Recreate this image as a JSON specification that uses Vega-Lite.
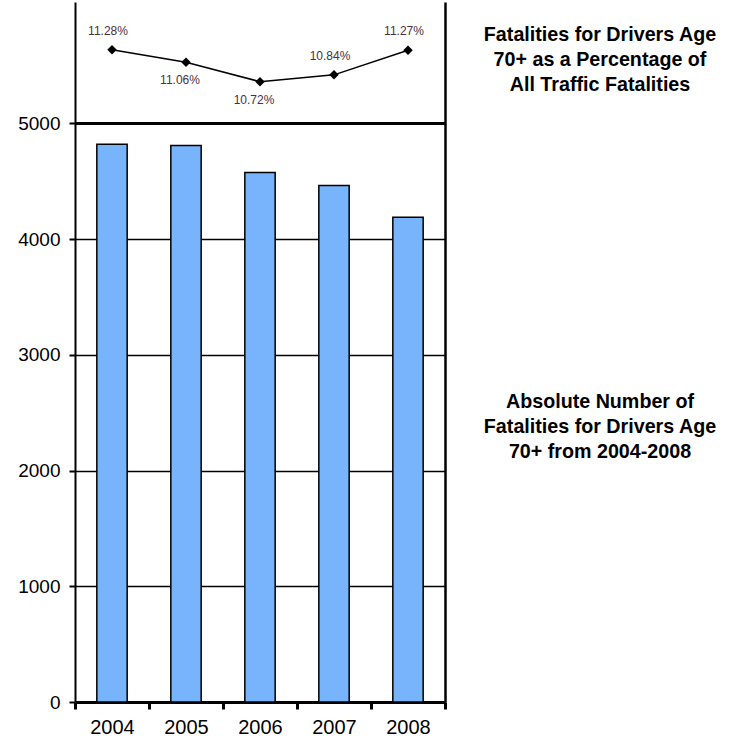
{
  "$schema": "https://vega.github.io/schema/vega-lite/v6.json",
  "background": "white",
  "padding": {"left": 5, "top": 2, "right": 5, "bottom": 0},
  "datasets": {
    "drivers70": [
      {"year": "2004", "fatalities": 4820, "share": 0.1128},
      {"year": "2005", "fatalities": 4808, "share": 0.1106},
      {"year": "2006", "fatalities": 4575, "share": 0.1072},
      {"year": "2007", "fatalities": 4463, "share": 0.1084},
      {"year": "2008", "fatalities": 4190, "share": 0.1127}
    ],
    "notes": [
      {"note": ["Fatalities for Drivers Age", "70+ as a Percentage of", "All Traffic Fatalities"], "at": 5764},
      {"note": ["Absolute Number of", "Fatalities for Drivers Age", "70+ from 2004-2008"], "at": 2595}
    ]
  },
  "spacing": 10,
  "hconcat": [
    {
      "width": 370,
      "height": 700,
      "data": {"name": "drivers70"},
      "encoding": {
        "x": {
          "field": "year",
          "type": "nominal",
          "scale": {"paddingInner": 0, "paddingOuter": 0},
          "axis": {
            "title": null,
            "labelAngle": 0,
            "labelFont": "Liberation Sans",
            "labelFontSize": 20,
            "labelColor": "black",
            "labelPadding": 8,
            "tickBand": "extent",
            "tickColor": "black",
            "tickWidth": 3,
            "tickSize": 7,
            "domainColor": "black",
            "domainWidth": 3,
            "grid": false
          }
        }
      },
      "layer": [
        {
          "mark": {"type": "bar", "fill": "#78b4fc", "stroke": "black", "strokeWidth": 1.5, "width": {"band": 0.41}},
          "encoding": {
            "y": {
              "field": "fatalities",
              "type": "quantitative",
              "scale": {"domain": [0, 6049], "nice": false},
              "axis": {
                "title": null,
                "values": [0, 1000, 2000, 3000, 4000, 5000],
                "format": "d",
                "grid": true,
                "gridColor": "black",
                "gridWidth": 1.5,
                "gridOpacity": 1,
                "tickColor": "black",
                "tickWidth": 2,
                "tickSize": 6,
                "labelFont": "Liberation Sans",
                "labelFontSize": 19,
                "labelColor": "black",
                "labelPadding": 9,
                "domainColor": "black",
                "domainWidth": 2,
                "minExtent": 70,
                "maxExtent": 70
              }
            }
          }
        },
        {
          "mark": {"type": "rule", "color": "black", "strokeWidth": 2.5},
          "encoding": {
            "x": null,
            "y": {"datum": 5000, "type": "quantitative", "scale": {"domain": [0, 6049], "nice": false}, "axis": null}
          }
        },
        {
          "mark": {"type": "line", "color": "black", "strokeWidth": 1.5},
          "encoding": {
            "y": {
              "field": "share",
              "type": "quantitative",
              "scale": {"domain": [-0.00163, 0.12118], "nice": false, "zero": false},
              "axis": {
                "orient": "right",
                "title": null,
                "labels": false,
                "ticks": false,
                "grid": false,
                "domainColor": "black",
                "domainWidth": 2.5,
                "minExtent": 0,
                "maxExtent": 0
              }
            }
          }
        },
        {
          "mark": {"type": "point", "shape": "diamond", "filled": true, "color": "black", "opacity": 1, "size": 90},
          "encoding": {
            "y": {"field": "share", "type": "quantitative", "scale": {"domain": [-0.00163, 0.12118], "nice": false, "zero": false}, "axis": null}
          }
        },
        {
          "transform": [{"filter": "datum.year == '2004' || datum.year == '2007' || datum.year == '2008'"}],
          "mark": {"type": "text", "font": "Liberation Sans", "fontSize": 12, "color": "#4a3040", "baseline": "middle", "dy": -19, "dx": -4},
          "encoding": {
            "y": {"field": "share", "type": "quantitative", "scale": {"domain": [-0.00163, 0.12118], "nice": false, "zero": false}, "axis": null},
            "text": {"field": "share", "type": "quantitative", "format": ".2%"}
          }
        },
        {
          "transform": [{"filter": "datum.year == '2005' || datum.year == '2006'"}],
          "mark": {"type": "text", "font": "Liberation Sans", "fontSize": 12, "color": "#4a3040", "baseline": "middle", "dy": 18, "dx": -6},
          "encoding": {
            "y": {"field": "share", "type": "quantitative", "scale": {"domain": [-0.00163, 0.12118], "nice": false, "zero": false}, "axis": null},
            "text": {"field": "share", "type": "quantitative", "format": ".2%"}
          }
        }
      ],
      "resolve": {"scale": {"y": "independent"}, "axis": {"y": "independent"}}
    },
    {
      "width": 266,
      "height": 700,
      "data": {"name": "notes"},
      "mark": {"type": "text", "font": "Liberation Sans", "fontWeight": "bold", "fontSize": 19.7, "lineHeight": 25, "color": "black", "align": "center", "baseline": "middle", "dx": 10},
      "encoding": {
        "y": {"field": "at", "type": "quantitative", "scale": {"domain": [0, 6049], "nice": false}, "axis": null},
        "text": {"field": "note"}
      }
    }
  ],
  "config": {"view": {"stroke": null}}
}
